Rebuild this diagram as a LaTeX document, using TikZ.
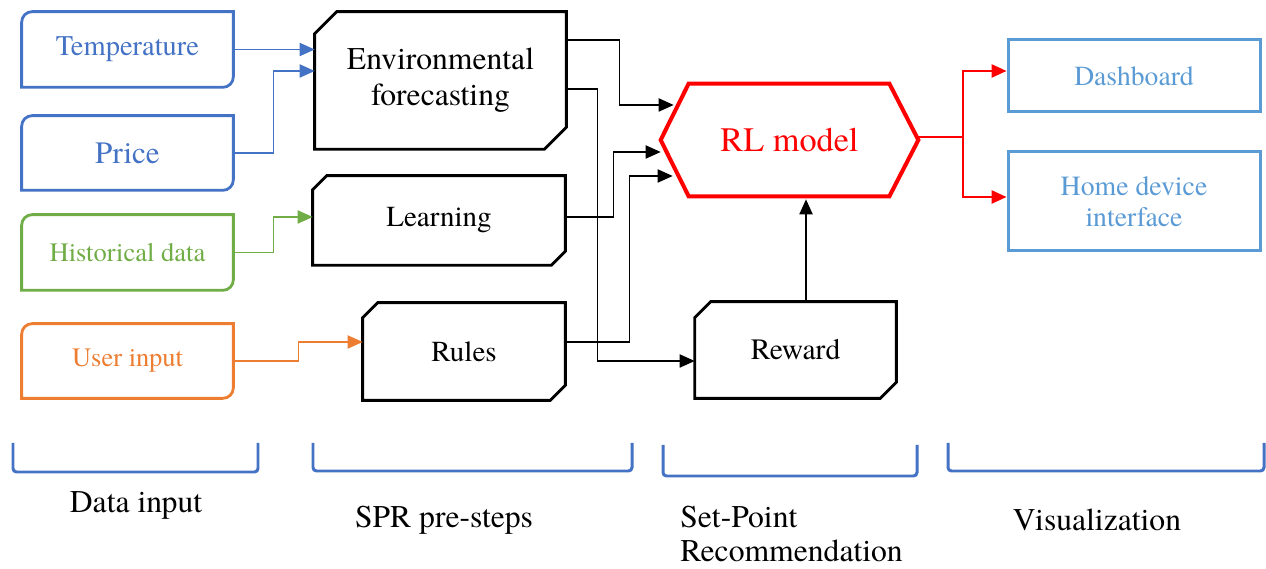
\documentclass[tikz,border=0pt]{standalone}
\usepackage{fontspec}
\setmainfont{TeX Gyre Termes}
\usepackage{xcolor}
\definecolor{inblue}{RGB}{68,114,196}
\definecolor{ingreen}{RGB}{112,173,71}
\definecolor{inorange}{RGB}{237,125,49}
\definecolor{outblue}{RGB}{91,155,213}
\usepackage{tikz}
\usetikzlibrary{arrows.meta, positioning}

\begin{document}
\begin{tikzpicture}[
    box/.style={rectangle, draw=none, inner sep=0pt, align=center},
    edge/.style={line width=0.7pt, -{Triangle[length=8.5pt,width=7.5pt]}},
    outline/.style={line width=1.6pt, line join=miter},
    brace/.style={inblue, line width=1.7pt, rounded corners=2pt},
  ]
\useasboundingbox (0,0) rectangle (25.32,11.38);

% data input
\node[box, minimum width=4.22cm, minimum height=1.5cm, text=inblue, font=\fontsize{16.2}{18}\selectfont] (temp) at (2.55,10.39) {Temperature};
\node[box, minimum width=4.22cm, minimum height=1.48cm, text=inblue, font=\fontsize{17.7}{19}\selectfont] (price) at (2.55,8.32) {Price};
\node[box, minimum width=4.22cm, minimum height=1.5cm, text=ingreen, font=\fontsize{15.1}{17}\selectfont] (hist) at (2.55,6.33) {Historical data};
\node[box, minimum width=4.22cm, minimum height=1.48cm, text=inorange, font=\fontsize{15.1}{17}\selectfont] (user) at (2.55,4.16) {User input};
\foreach \n/\c in {temp/inblue, price/inblue, hist/ingreen, user/inorange}{
  \draw[outline, \c] (\n.south west) -- ([yshift=-6pt]\n.north west) arc[start angle=180, end angle=90, radius=6pt]
    -- (\n.north east) -- ([yshift=6pt]\n.south east) arc[start angle=0, end angle=-90, radius=6pt] -- cycle;
}

% SPR pre-steps and reward
\node[box, minimum width=5.02cm, minimum height=2.74cm, font=\fontsize{18}{20.4}\selectfont] (env) at (8.81,9.77) {Environmental\\forecasting};
\node[box, minimum width=5.04cm, minimum height=1.78cm, font=\fontsize{16.5}{18}\selectfont] (learn) at (8.78,6.97) {Learning};
\node[box, minimum width=4.04cm, minimum height=1.94cm, font=\fontsize{16.5}{18}\selectfont] (rules) at (9.28,4.35) {Rules};
\node[box, minimum width=4.02cm, minimum height=1.92cm, font=\fontsize{16.8}{18}\selectfont] (reward) at (15.91,4.38) {Reward};
\foreach \n/\k in {env/0.44cm, learn/0.28cm, rules/0.3cm, reward/0.32cm}{
  \draw[outline] ([yshift=-\k]\n.north west) -- ([xshift=\k]\n.north west) -- (\n.north east)
    -- ([yshift=\k]\n.south east) -- ([xshift=-\k]\n.south east) -- (\n.south west) -- cycle;
}

% RL model
\node[box, minimum width=5.14cm, minimum height=2.24cm, text=red, font=\fontsize{19.5}{21}\selectfont] (rl) at (15.79,8.58) {RL model};
\draw[outline, red, line width=2.3pt] (rl.west) -- ([xshift=0.56cm]rl.north west) -- ([xshift=-0.58cm]rl.north east)
  -- (rl.east) -- ([xshift=-0.58cm]rl.south east) -- ([xshift=0.56cm]rl.south west) -- cycle;

% visualization
\node[box, draw=outblue, line width=1.7pt, minimum width=5.04cm, minimum height=1.44cm, text=outblue, font=\fontsize{15.7}{17}\selectfont] (dash) at (22.68,9.86) {Dashboard};
\node[box, draw=outblue, line width=1.7pt, minimum width=5.04cm, minimum height=1.98cm, text=outblue, font=\fontsize{15.8}{18}\selectfont] (home) at (22.68,7.35) {Home device\\interface};

% connectors
\draw[edge, inblue] (temp.east) -- (temp.east -| env.west);
\draw[edge, inblue] (price.east) -- ++(0.8,0) |- ([yshift=0.19cm]env.west);
\draw[edge, ingreen] (hist.east) -- ++(0.8,0) |- ([yshift=0.07cm]learn.west);
\draw[edge, inorange] (user.east) -- ++(1.3,0) |- ([yshift=0.19cm]rules.west);
\draw[edge] ([yshift=0.81cm]env.east) -- ++(1.06,0) |- ([xshift=0.26cm,yshift=0.7cm]rl.west);
\draw[edge] ([yshift=0.07cm]learn.east) -- ++(0.96,0) |- ([yshift=-0.24cm]rl.west);
\draw[edge] ([yshift=0.19cm]rules.east) -- ++(1.28,0) |- ([xshift=0.24cm,yshift=-0.72cm]rl.west);
\draw[edge] ([yshift=-0.17cm]env.east) -- ++(0.62,0) |- ([yshift=-0.22cm]reward.west);
\draw[edge] ([xshift=0.21cm]reward.north) -- ([xshift=0.21cm,yshift=-0.06cm]reward.north |- rl.south);
\draw[edge, red, line width=1.1pt] ([yshift=0.06cm]rl.east) -- ++(0.9,0) |- ([yshift=0.1cm]dash.west);
\draw[edge, red, line width=1.1pt] ([yshift=0.06cm]rl.east) -- ++(0.9,0) |- ([yshift=0.09cm]home.west);

% stage brackets
\foreach \a/\b/\t/\u in {0.26/5.16/2.52/1.94, 6.26/12.64/2.52/1.96, 13.26/18.34/2.48/1.86, 18.96/25.28/2.52/1.96}{
  \draw[brace] (\a,\t) -- (\a,\u) -- (\b,\u) -- (\b,\t);
}
\node[font=\fontsize{18}{20}\selectfont] (lbin) at (2.72,1.28) {Data input};
\node[font=\fontsize{18}{20}\selectfont] (lbspr) at (8.88,0.98) {SPR pre-steps};
\node[font=\fontsize{18}{19.8}\selectfont, align=left, anchor=west, inner sep=0pt] (lbset) at (13.6,0.7) {Set-Point\\Recommendation};
\node[font=\fontsize{18}{20}\selectfont] (lbvis) at (21.94,0.98) {Visualization};
\end{tikzpicture}
\end{document}
